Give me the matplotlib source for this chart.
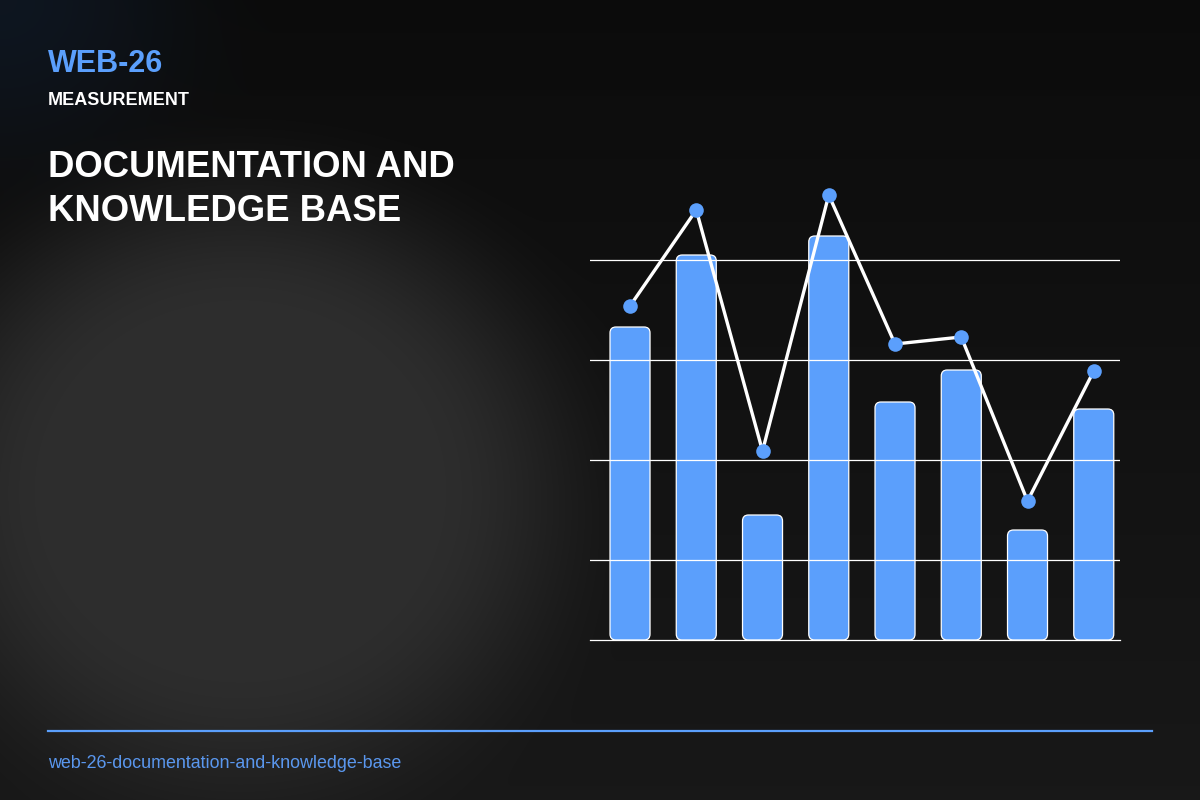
import numpy as np
import matplotlib
matplotlib.use("Agg")
import matplotlib.pyplot as plt
from matplotlib.patches import FancyBboxPatch

plt.rcParams['font.family'] = ['Liberation Sans', 'DejaVu Sans']

# data
categories = list(range(8))
bar_values = [62.6, 77.0, 25.0, 80.8, 47.6, 54.0, 22.0, 46.2]
line_values = [66.8, 86.0, 37.8, 89.0, 59.2, 60.6, 27.8, 53.8]
grid_ticks = [16, 36, 56, 76]

code_label = "WEB-26"
kind_label = "MEASUREMENT"
title_lines = ["DOCUMENTATION AND", "KNOWLEDGE BASE"]
slug = "web-26-documentation-and-knowledge-base"

BLUE = '#5b9ffc'
W, H = 1200, 800


def smoothstep(e0: float, e1: float, x: np.ndarray) -> np.ndarray:
    t = np.clip((x - e0) / (e1 - e0), 0, 1)
    return t * t * (3 - 2 * t)


def background(w: int, h: int) -> np.ndarray:
    yy, xx = np.mgrid[0:h, 0:w].astype(float)
    top = np.array([0.045, 0.045, 0.045])
    bottom = np.array([0.095, 0.095, 0.095])
    t = (yy / h)[..., None]
    img = top * (1 - t) + bottom * t
    # broad grey glow on the left
    r = np.sqrt(((xx - 240) / 420) ** 2 + ((yy - 490) / 390) ** 2)
    k = (1 - smoothstep(0.45, 1.0, r))[..., None]
    glow = np.array([0.178, 0.178, 0.178])
    img = img * (1 - k) + glow * k
    # faint blue tint in the top-left corner
    rb = np.sqrt((xx / 280) ** 2 + (yy / 240) ** 2)
    kb = (1 - smoothstep(0.0, 1.0, rb))[..., None]
    tint = np.array([0.055, 0.085, 0.125])
    img = img * (1 - kb) + tint * kb
    return np.clip(img, 0, 1)


fig = plt.figure(figsize=(12, 8), dpi=100)
ax_bg = fig.add_axes([0, 0, 1, 1])
ax_bg.imshow(background(W, H), extent=[0, W, H, 0], aspect='auto', zorder=0)
ax_bg.set_xlim(0, W)
ax_bg.set_ylim(H, 0)
ax_bg.axis('off')

# chart area: x 590..1120 px, y 160..640 px
ax = fig.add_axes([590 / W, 1 - 640 / H, 530 / W, 480 / H])
ax.patch.set_alpha(0)
ax.set_xlim(-0.604, 7.396)
ax.set_ylim(0, 96)

bar_width = 0.604
px_per_x = 530 / 8.0
px_per_y = 480 / 96.0
for x, v in zip(categories, bar_values):
    p = FancyBboxPatch((x - bar_width / 2, 0), bar_width, v,
                       boxstyle="round,pad=0,rounding_size=0.09",
                       mutation_aspect=px_per_x / px_per_y,
                       facecolor=BLUE, edgecolor='white', linewidth=0.9, zorder=1)
    ax.add_patch(p)

ax.set_yticks(grid_ticks)
ax.set_axisbelow(False)
ax.yaxis.grid(True, color='white', linewidth=0.9)
ax.xaxis.grid(False)
ax.tick_params(length=0, labelleft=False, labelbottom=False)
ax.set_xticks([])
for side in ['top', 'right', 'left']:
    ax.spines[side].set_visible(False)
ax.spines['bottom'].set_color('white')
ax.spines['bottom'].set_linewidth(0.9)

ax.plot(categories, line_values, color='white', linewidth=2.4, zorder=3,
        solid_joinstyle='round', clip_on=False)
ax.plot(categories, line_values, linestyle='none', marker='o', markersize=10.5,
        markerfacecolor=BLUE, markeredgewidth=0, zorder=4, clip_on=False)

# header texts
fig.text(48 / W, 1 - 72 / H, code_label, color=BLUE, fontsize=22,
         fontweight='bold', va='baseline', ha='left')
fig.text(48 / W, 1 - 105 / H, kind_label, color='white', fontsize=13,
         fontweight='bold', va='baseline', ha='left')
fig.text(48 / W, 1 - 177 / H, title_lines[0], color='white', fontsize=26.3,
         fontweight='bold', va='baseline', ha='left')
fig.text(48 / W, 1 - 221 / H, title_lines[1], color='white', fontsize=26.3,
         fontweight='bold', va='baseline', ha='left')

# footer
ax_bg.plot([48, 1152], [731, 731], color=BLUE, linewidth=1.6, zorder=2)
fig.text(48 / W, 1 - 768 / H, slug, color='#5a97ee', fontsize=12.9,
         va='baseline', ha='left')

fig.savefig('out.png', dpi=100)
